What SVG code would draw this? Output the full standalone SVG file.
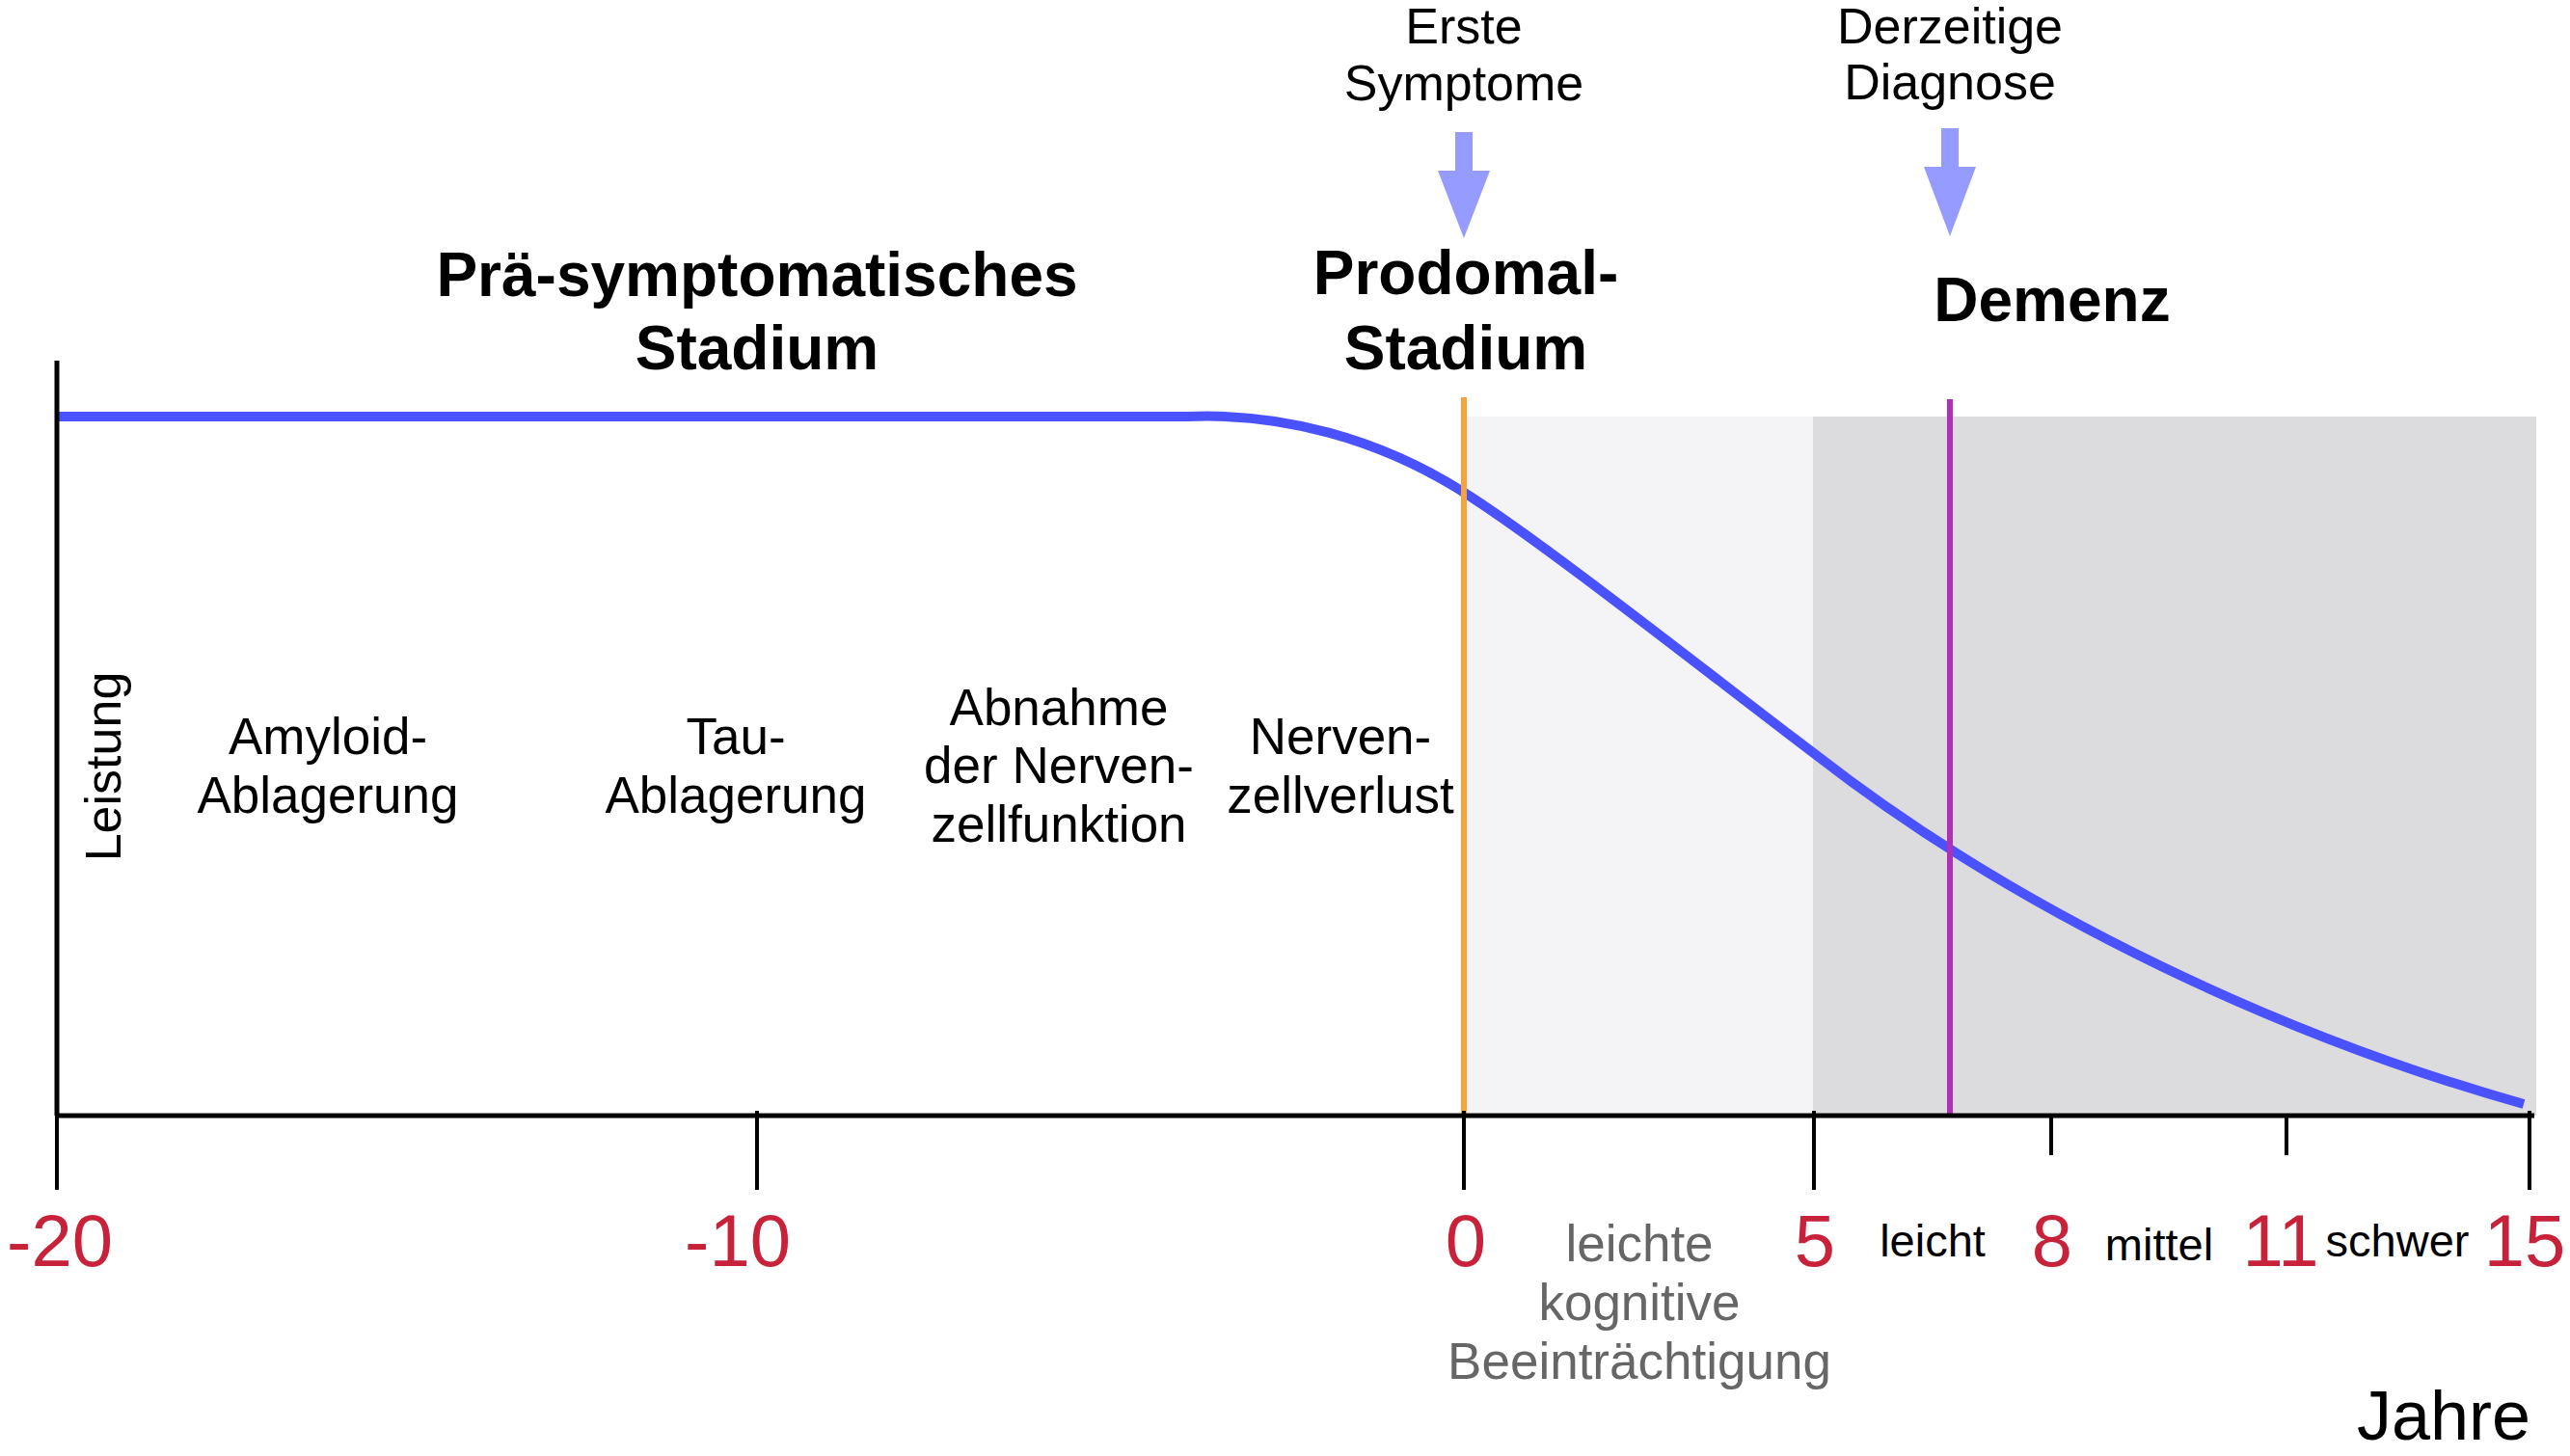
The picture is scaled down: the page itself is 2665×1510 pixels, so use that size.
<svg xmlns="http://www.w3.org/2000/svg" width="2665" height="1510" viewBox="0 0 2665 1510">
<style>
text{font-family:"Liberation Sans",Arial,sans-serif;fill:#000;text-anchor:middle}
.lbl{font-size:53px}
.top{font-size:52px}
.bold{font-size:64px;font-weight:bold}
.num{font-size:76px;fill:#c8223a}
.mci{font-size:53px;fill:#666666}
.sev{font-size:47px}
.axis{stroke:#000;stroke-width:5;fill:none}
.tick{stroke:#000;stroke-width:4;fill:none}
.arrow{fill:#969cff}
</style>
<rect width="2665" height="1510" fill="#ffffff"/>
<g id="regions">
<rect id="mci-region" x="1521" y="432" width="359" height="725" fill="#f4f4f6"/>
<rect id="dementia-region" x="1880" y="432" width="750" height="725" fill="#dcdcde"/>
</g>
<g id="connectors">
<path id="curve" d="M59 432 L1232 432 C1330 428 1430 455 1517 510 C1600 562 1780 705 1882 782 C2100 952 2375 1077 2617 1145" fill="none" stroke="#4a52ff" stroke-width="10"/>
<line id="first-symptoms-line" x1="1518" y1="412" x2="1518" y2="1157" stroke="#f5a33a" stroke-width="6"/>
<line id="diagnosis-line" x1="2022" y1="414" x2="2022" y2="1157" stroke="#b030b8" stroke-width="6"/>
<polygon id="arrow-symptoms" class="arrow" points="1509,137 1527,137 1527,177 1545,177 1518,247 1491,177 1509,177"/>
<polygon id="arrow-diagnosis" class="arrow" points="2013,133 2031,133 2031,173 2049,173 2022,245 1995,173 2013,173"/>
</g>
<g id="axes">
<line class="axis" x1="59" y1="374" x2="59" y2="1157"/>
<line class="axis" x1="57" y1="1157" x2="2628" y2="1157"/>
<line class="tick" x1="59" y1="1152" x2="59" y2="1234"/>
<line class="tick" x1="785" y1="1152" x2="785" y2="1234"/>
<line class="tick" x1="1518" y1="1152" x2="1518" y2="1234"/>
<line class="tick" x1="1881" y1="1152" x2="1881" y2="1234"/>
<line class="tick" x1="2127" y1="1157" x2="2127" y2="1198"/>
<line class="tick" x1="2371" y1="1157" x2="2371" y2="1198"/>
<line class="tick" x1="2623" y1="1152" x2="2623" y2="1234"/>
</g>
<g id="event-labels">
<g id="first-symptoms"><text class="top" x="1518" y="45">Erste</text><text class="top" x="1518" y="104">Symptome</text></g>
<g id="current-diagnosis"><text class="top" x="2022" y="45">Derzeitige</text><text class="top" x="2022" y="103">Diagnose</text></g>
</g>
<g id="stage-labels">
<g id="stage-presymptomatic"><text class="bold" x="785" y="307">Prä-symptomatisches</text><text class="bold" x="785" y="383">Stadium</text></g>
<g id="stage-prodromal"><text class="bold" x="1520" y="305">Prodomal-</text><text class="bold" x="1520" y="383">Stadium</text></g>
<g id="stage-dementia"><text class="bold" x="2128" y="333">Demenz</text></g>
</g>
<g id="process-labels">
<text id="y-label" class="lbl" transform="translate(125 795) rotate(-90)" x="0" y="0" style="font-size:52px">Leistung</text>
<g id="amyloid"><text class="lbl" x="340" y="782">Amyloid-</text><text class="lbl" x="340" y="843">Ablagerung</text></g>
<g id="tau"><text class="lbl" x="763" y="782">Tau-</text><text class="lbl" x="763" y="843">Ablagerung</text></g>
<g id="function-loss"><text class="lbl" x="1098" y="752">Abnahme</text><text class="lbl" x="1098" y="812">der Nerven-</text><text class="lbl" x="1098" y="873">zellfunktion</text></g>
<g id="cell-loss"><text class="lbl" x="1390" y="782">Nerven-</text><text class="lbl" x="1390" y="843">zellverlust</text></g>
</g>
<g id="axis-labels">
<text class="num" x="62" y="1313">-20</text>
<text class="num" x="765" y="1313">-10</text>
<text class="num" x="1520" y="1313">0</text>
<text class="num" x="1882" y="1313">5</text>
<text class="num" x="2128" y="1313">8</text>
<text class="num" x="2365" y="1313">11</text>
<text class="num" x="2618" y="1313">15</text>
<g id="mci-label"><text class="mci" x="1700" y="1308">leichte</text><text class="mci" x="1700" y="1369">kognitive</text><text class="mci" x="1700" y="1430">Beeinträchtigung</text></g>
<text class="sev" x="2004" y="1303">leicht</text>
<text class="sev" x="2239" y="1307">mittel</text>
<text class="sev" x="2486" y="1303">schwer</text>
<text id="x-label" x="2624" y="1493" style="font-size:72px;text-anchor:end">Jahre</text>
</g>
</svg>
